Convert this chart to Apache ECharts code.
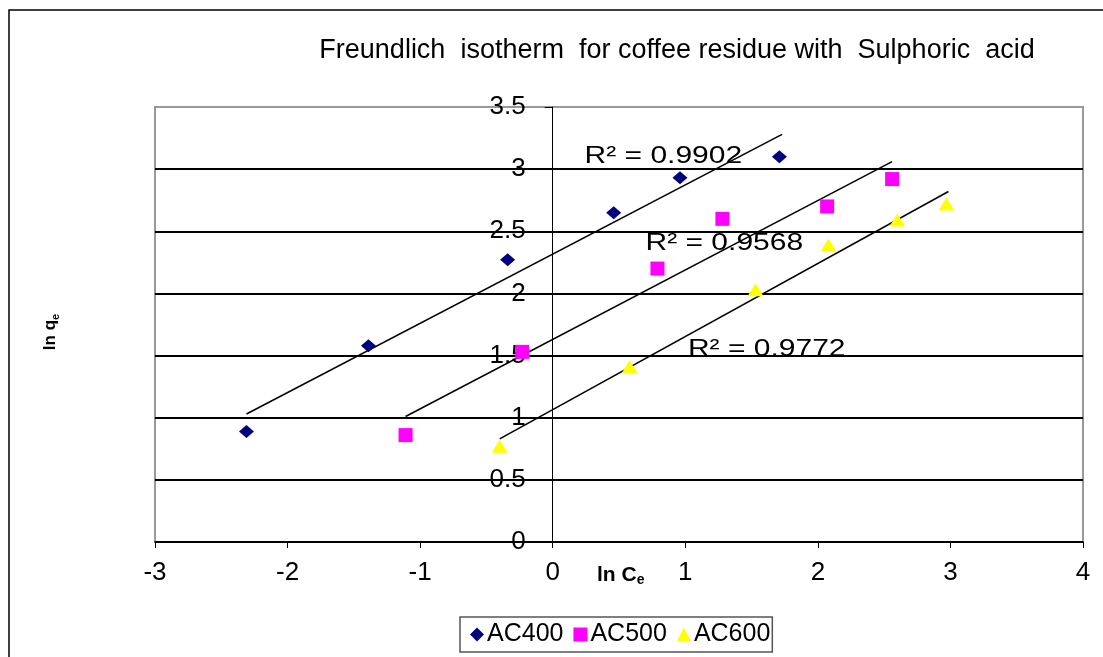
<!DOCTYPE html>
<html>
<head>
<meta charset="utf-8">
<script src="https://cdn.jsdelivr.net/npm/echarts@6/dist/echarts.min.js"></script>
<style>html,body{margin:0;padding:0;background:#fff}#c{width:1103px;height:657px}</style>
</head>
<body>
<div id="c"></div>
<script>
// ---- data ----
const seriesNames = ['AC400', 'AC500', 'AC600'];
const ac400X = [-2.31, -1.39, -0.34, 0.46, 0.96, 1.71];
const ac400Y = [0.89, 1.58, 2.27, 2.65, 2.93, 3.10];
const ac500X = [-1.11, -0.23, 0.79, 1.28, 2.07, 2.56];
const ac500Y = [0.86, 1.53, 2.20, 2.60, 2.70, 2.92];
const ac600X = [-0.40, 0.58, 1.53, 2.08, 2.60, 2.97];
const ac600Y = [0.77, 1.41, 2.03, 2.39, 2.59, 2.72];
// trendline end points as drawn in the reference [x0, y0, x1, y1]
const trend400 = [-2.31, 1.03, 1.73, 3.28];
const trend500 = [-1.11, 1.01, 2.56, 3.06];
const trend600 = [-0.40, 0.83, 2.985, 2.82];
const r2Labels = ['R² = 0.9902', 'R² = 0.9568', 'R² = 0.9772'];
const r2Coords = [[0.24, 3.10], [0.70, 2.40], [1.02, 1.55]];
const xTicks = [-3, -2, -1, 0, 1, 2, 3, 4];
const yTicks = [0, 0.5, 1, 1.5, 2, 2.5, 3, 3.5];

const zip = (xs, ys) => xs.map((x, i) => [x, ys[i]]);
const FONT = 'Liberation Sans, Arial, sans-serif';
const colors = ['#000080', '#FF00FF', '#FFFF00'];
const symbols = ['diamond', 'rect', 'triangle'];
const sizes = [[15, 13], [14, 14], [16, 13]];
const pts = [zip(ac400X, ac400Y), zip(ac500X, ac500Y), zip(ac600X, ac600Y)];
const trends = [trend400, trend500, trend600];

const GRID = { left: 155, right: 20, top: 107, bottom: 115 };
const W = 1103;
const gridW = W - GRID.left - GRID.right;
const xMin = xTicks[0], xMax = xTicks[xTicks.length - 1];
const yAxisOffset = -gridW * (0 - xMin) / (xMax - xMin);

const series = [];
trends.forEach((t, i) => {
  series.push({
    name: 'trend' + i,
    type: 'line',
    data: [[t[0], t[1]], [t[2], t[3]]],
    symbol: 'none',
    silent: true,
    lineStyle: { color: '#000', width: 1.5 },
    z: 3
  });
});
pts.forEach((p, i) => {
  series.push({
    name: seriesNames[i],
    type: 'scatter',
    data: p,
    symbol: symbols[i],
    symbolSize: sizes[i],
    itemStyle: { color: colors[i], opacity: 1 },
    z: 5
  });
});

const chart = echarts.init(document.getElementById('c'), null, { renderer: 'canvas' });
chart.setOption({
  backgroundColor: '#fff',
  animation: false,
  textStyle: { fontFamily: FONT },
  title: {
    text: 'Freundlich  isotherm  for coffee residue with  Sulphoric  acid',
    left: 672, top: 32, textAlign: 'center',
    textStyle: { fontSize: 27, fontWeight: 'normal', color: '#000', fontFamily: FONT }
  },
  grid: Object.assign({ show: true, borderColor: '#999', borderWidth: 2, backgroundColor: 'transparent' }, GRID),
  legend: {
    data: seriesNames,
    left: 460, top: 617,
    orient: 'horizontal',
    borderColor: '#555', borderWidth: 1.5,
    padding: [5, 2, 5, 10],
    itemGap: 10, itemWidth: 14, itemHeight: 14,
    textStyle: { fontSize: 25, color: '#000', fontFamily: FONT, padding: [0, 0, 0, -2] }
  },
  xAxis: {
    type: 'value', min: xMin, max: xMax, interval: 1,
    axisLine: { show: true, onZero: true, lineStyle: { color: '#000', width: 1.5 } },
    axisTick: { show: true, length: 6, lineStyle: { color: '#000' } },
    axisLabel: { fontSize: 26, color: '#000', margin: 18, fontFamily: FONT,
      formatter: v => String(v) },
    splitLine: { show: false }
  },
  yAxis: {
    type: 'value', min: yTicks[0], max: yTicks[yTicks.length - 1], interval: 0.5,
    position: 'left', offset: yAxisOffset,
    axisLine: { show: true, onZero: false, lineStyle: { color: '#000', width: 1 } },
    axisTick: { show: true, length: 8, lineStyle: { color: '#000' } },
    axisLabel: { fontSize: 26, color: '#000', margin: 27, fontFamily: FONT,
      formatter: v => String(v) },
    splitLine: { show: true, showMaxLine: false, lineStyle: { color: '#000', width: 2 } }
  },
  graphic: [
    { id: 'frame', type: 'rect', shape: { x: 9, y: 10, width: 1300, height: 900 },
      style: { fill: 'none', stroke: '#000', lineWidth: 1.5 }, silent: true, z: -1 },
    { id: 'yname', type: 'text', x: 50, y: 332, rotation: Math.PI / 2,
      style: { text: '{m|ln q}{s|e}', align: 'center', verticalAlign: 'middle',
        rich: { m: { fontSize: 17, fontWeight: 'bold', fontFamily: FONT, fill: '#000', lineHeight: 22 },
                s: { fontSize: 11, fontWeight: 'bold', fontFamily: FONT, fill: '#000', lineHeight: 22, padding: [9, 0, 0, 0], verticalAlign: 'bottom' } } } },
    { id: 'xname', type: 'text', x: 597, y: 575,
      style: { text: '{m|ln C}{s|e}', align: 'left', verticalAlign: 'middle',
        rich: { m: { fontSize: 21, fontWeight: 'bold', fontFamily: FONT, fill: '#000', lineHeight: 25 },
                s: { fontSize: 14, fontWeight: 'bold', fontFamily: FONT, fill: '#000', lineHeight: 25, padding: [10, 0, 0, 0], verticalAlign: 'bottom' } } } }
  ],
  series: series
});

// R² labels placed at data coordinates through the chart's own scales
const r2Graphics = r2Labels.map((txt, i) => {
  const p = chart.convertToPixel({ gridIndex: 0 }, r2Coords[i]);
  return { id: 'r2_' + i, type: 'text', x: p[0], y: p[1], scaleX: 1.25, z: 10,
    style: { text: txt, align: 'left', verticalAlign: 'middle', fontSize: 24,
      fontFamily: FONT, fill: '#000' } };
});
chart.setOption({ graphic: r2Graphics });
</script>
</body>
</html>
